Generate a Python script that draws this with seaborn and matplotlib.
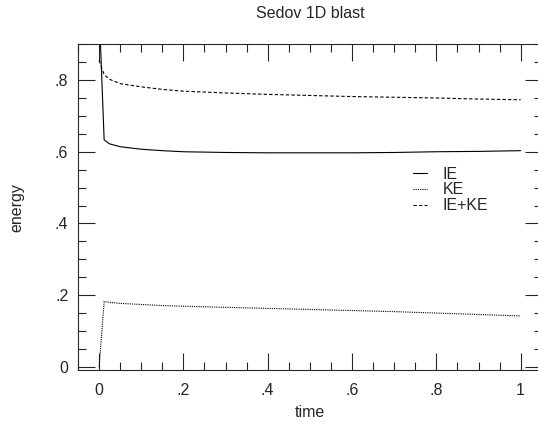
import pandas as pd
import seaborn as sns
import matplotlib.pyplot as plt
from matplotlib.ticker import MultipleLocator

# values
time = [0.0, 0.012, 0.025, 0.05, 0.1, 0.15, 0.2, 0.3, 0.4, 0.5, 0.6, 0.7, 0.8, 0.9, 1.0]
ie = [1.0, 0.633, 0.622, 0.614, 0.607, 0.603, 0.600, 0.598, 0.597, 0.597, 0.597, 0.598, 0.600, 0.601, 0.603]
ke = [0.0, 0.182, 0.180, 0.177, 0.174, 0.171, 0.169, 0.166, 0.163, 0.160, 0.157, 0.154, 0.150, 0.146, 0.142]
total = [0.855, 0.815, 0.802, 0.790, 0.781, 0.774, 0.769, 0.764, 0.760, 0.757, 0.754, 0.752, 0.750, 0.747, 0.745]

series_names = ["IE", "KE", "IE+KE"]
xtick_vals = [0, 0.2, 0.4, 0.6, 0.8, 1.0]
xtick_labels = ["0", ".2", ".4", ".6", ".8", "1"]
ytick_vals = [0, 0.2, 0.4, 0.6, 0.8]
ytick_labels = ["0", ".2", ".4", ".6", ".8"]

df = pd.DataFrame({"time": time * 3,
                   "energy": ie + ke + total,
                   "series": [n for n in series_names for _ in time]})

sns.set_style("ticks")
plt.rcParams['font.family'] = ['Liberation Sans', 'DejaVu Sans']
fs = 11.5

fig = plt.figure(figsize=(5.38, 4.21), dpi=100)
ax = fig.add_axes([0.145, 0.121, 0.862, 0.774])

styles = {"IE": "-", "KE": (0, (1, 1)), "IE+KE": (0, (3, 2))}
for name in series_names:
    sns.lineplot(data=df[df["series"] == name], x="time", y="energy",
                 color="black", lw=0.8, linestyle=styles[name], label=name, ax=ax)

ax.set_xlim(-0.05, 1.05)
ax.set_ylim(-0.009, 0.9)
ax.set_xticks(xtick_vals)
ax.set_xticklabels(xtick_labels)
ax.set_yticks(ytick_vals)
ax.set_yticklabels(ytick_labels)
ax.xaxis.set_minor_locator(MultipleLocator(0.05))
ax.yaxis.set_minor_locator(MultipleLocator(0.05))
ax.tick_params(which="both", direction="in", top=True, right=True, width=0.8, labelsize=fs)
ax.tick_params(which="major", length=12)
ax.tick_params(axis="x", which="major", pad=9)
ax.tick_params(axis="y", which="major", pad=7)
ax.tick_params(which="minor", length=6)
for s in ax.spines.values():
    s.set_linewidth(0.8)

ax.set_xlabel("time", fontsize=fs, labelpad=5)
ax.set_ylabel("energy", fontsize=fs, labelpad=22)
ax.set_title("Sedov 1D blast", fontsize=fs, pad=19)

ax.legend(loc="upper left", bbox_to_anchor=(0.706, 0.649), frameon=False, borderpad=0,
          handlelength=0.85, handletextpad=1.0, labelspacing=0.05, fontsize=fs)

fig.savefig("out.png", dpi=100)
